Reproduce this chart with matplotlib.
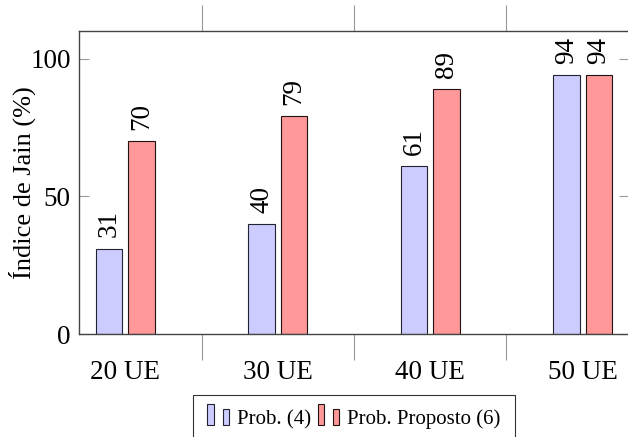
import numpy as np
import matplotlib
matplotlib.use("Agg")
import matplotlib.pyplot as plt
from matplotlib.patches import Rectangle
from matplotlib.legend_handler import HandlerBase

categories = ["20 UE", "30 UE", "40 UE", "50 UE"]
prob_4 = [31, 40, 61, 94]
prob_proposto = [70, 79, 89, 94]
series_names = ["Prob. (4)", "Prob. Proposto (6)"]

plt.rcParams["font.family"] = ["Liberation Serif", "DejaVu Serif"]
plt.rcParams["font.size"] = 19.5

blue_fill = "#ccccff"
red_fill = "#ff9999"
axis_gray = "#444444"
tick_gray = "#999999"


class TwoBarHandler(HandlerBase):
    # pgfplots-style ybar legend: two small bars side by side
    def create_artists(self, legend, orig_handle, xdescent, ydescent,
                       width, height, fontsize, trans):
        fc = orig_handle.get_facecolor()
        ec = orig_handle.get_edgecolor()
        w = width * 0.3
        r1 = Rectangle((-xdescent, -ydescent - height * 0.05), w, height * 1.45,
                       facecolor=fc, edgecolor=ec, lw=0.8, transform=trans)
        r2 = Rectangle((-xdescent + width * 0.7, -ydescent - height * 0.05), w,
                       height * 1.1, facecolor=fc, edgecolor=ec, lw=0.8,
                       transform=trans)
        return [r1, r2]


fig = plt.figure(figsize=(6.28, 4.37), dpi=100)
ax = fig.add_axes([79 / 628, 103 / 437, 550 / 628, 303 / 437])

x = np.arange(len(categories))
width = 0.175
off = 0.107
b1 = ax.bar(x - off, prob_4, width, color=blue_fill, edgecolor="#222233",
            lw=0.8, label=series_names[0])
b2 = ax.bar(x + off, prob_proposto, width, color=red_fill, edgecolor="#221111",
            lw=0.8, label=series_names[1])

for bars, vals in ((b1, prob_4), (b2, prob_proposto)):
    for rect, v in zip(bars, vals):
        ax.annotate(str(v), (rect.get_x() + rect.get_width() / 2, v),
                    xytext=(0, 8), textcoords="offset points",
                    rotation=90, ha="center", va="bottom", fontsize=19.5)

ax.set_xlim(-0.305, 3.305)
ax.set_ylim(0, 110)

ax.set_xticks(x)
ax.set_xticklabels(categories)
ax.set_xticks(x[:-1] + 0.5, minor=True)
ax.tick_params(axis="x", which="major", length=0, pad=19)
ax.tick_params(axis="x", which="minor", direction="out", length=19,
               width=0.8, color=tick_gray, top=True, bottom=True)

ax.set_yticks([0, 50, 100])
ax.tick_params(axis="y", which="major", direction="in", length=7,
               width=0.8, color=tick_gray, left=True, right=True, pad=6)

for s in ax.spines.values():
    s.set_color(axis_gray)
    s.set_linewidth(1.0)

ax.set_ylabel("Índice de Jain (%)", fontsize=19, labelpad=-4)

h1, h2 = b1.patches[0], b2.patches[0]
fig.legend(handles=[h1, h2], labels=series_names, ncol=2,
           loc="upper center", bbox_to_anchor=(354 / 628, 42 / 437),
           borderaxespad=0, frameon=True, fancybox=False, edgecolor="black",
           fontsize=15, handlelength=1.05, handletextpad=0.38,
           columnspacing=0.3, borderpad=0.7,
           handler_map={h1: TwoBarHandler(), h2: TwoBarHandler()})
fig.legends[0].get_frame().set_linewidth(0.8)

fig.savefig("out.png", dpi=100)
